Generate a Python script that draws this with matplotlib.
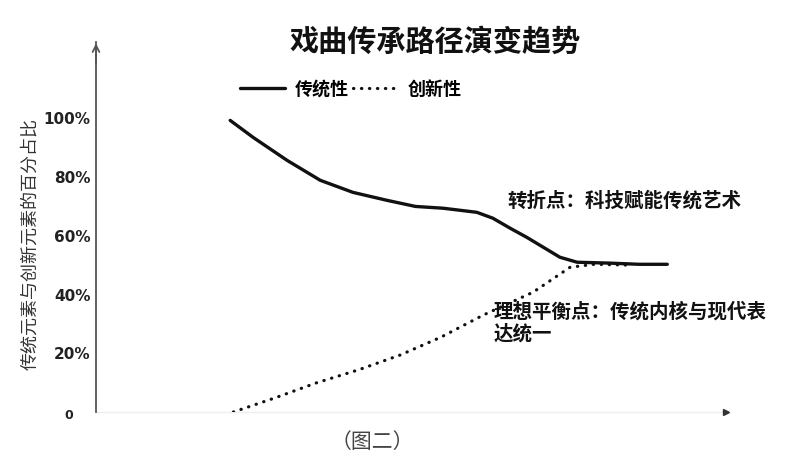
import matplotlib
matplotlib.use("Agg")
import matplotlib.pyplot as plt
from matplotlib.transforms import ScaledTranslation

plt.rcParams['font.family'] = ['Noto Sans CJK SC', 'DejaVu Sans']

# ---- data ----
trad_x = [21.0, 24.6, 29.9, 35.1, 40.2, 45.5, 50.0, 54.3, 59.6, 62.1, 64.8, 67.4, 70.0, 72.6, 75.3, 80.4, 85.0, 89.4]
trad_y = [99.3, 93.5, 85.7, 78.9, 74.8, 72.1, 70.0, 69.4, 68.0, 66.0, 62.6, 59.5, 56.1, 52.7, 51.0, 50.7, 50.3, 50.3]

innov_x = [21.5, 28, 34.6, 41, 47.6, 54, 60.6, 68.4, 74.2, 78, 84]
innov_y = [0, 4.8, 10, 14.3, 19.4, 25.5, 33, 40.8, 49.3, 50.3, 50]

ytick_vals = [0, 20, 40, 60, 80, 100]
ytick_labels = ["0", "20%", "40%", "60%", "80%", "100%"]

title = "戏曲传承路径演变趋势"
ylabel = "传统元素与创新元素的百分占比"
series_names = ["传统性", "创新性"]
note_turn = "转折点：科技赋能传统艺术"
note_balance = "理想平衡点：传统内核与现代表\n达统一"
caption = "（图二）"

W, H = 791, 466
fig = plt.figure(figsize=(W / 100, H / 100), dpi=100)
ax = fig.add_axes([96 / W, 54 / H, 639 / W, (412 - 42) / H])
ax.set_xlim(0, 100)
ax.set_ylim(0, 126)

l_trad, = ax.plot(trad_x, trad_y, color='#111111', lw=2.4, solid_capstyle='round',
                  solid_joinstyle='round', label=series_names[0], zorder=3)
l_innov, = ax.plot(innov_x, innov_y, color='#111111', lw=2.3, linestyle=(0, (0.1, 2.4)),
                   dash_capstyle='round', label=series_names[1], zorder=4)

# axes styling
for s in ['top', 'right', 'bottom']:
    ax.spines[s].set_visible(False)
ax.spines['left'].set_color('#555555')
ax.spines['left'].set_linewidth(1.3)
ax.set_xticks([])
ax.set_yticks(ytick_vals)
ax.set_yticklabels(ytick_labels, fontfamily='DejaVu Sans', fontweight='bold',
                   fontsize=11, color='#222222')
ax.tick_params(axis='y', length=0, pad=4)
lab0 = ax.get_yticklabels()[0]
lab0.set_transform(lab0.get_transform() + ScaledTranslation(-0.17, -0.02, fig.dpi_scale_trans))
lab0.set_fontsize(9)

# faint x axis + arrow heads
ax.plot([0, 98.5], [0, 0], color='#eeeeee', lw=1, clip_on=False, zorder=1)
ax.plot([98.6], [0], marker='>', markersize=5, color='#333333', clip_on=False, zorder=2)
ax.annotate('', xy=(0, 126.5), xytext=(0, 118), xycoords='data',
            arrowprops=dict(arrowstyle='->', color='#555555', lw=1.3, mutation_scale=12),
            annotation_clip=False)

# y label
fig.text(30 / W, 1 - 244 / H, ylabel, rotation=90, ha='center', va='center',
         fontsize=13, color='#333333')

# title
fig.text(435 / W, 1 - 42 / H, title, ha='center', va='center', fontsize=21,
         fontweight='bold', color='#111111')

# legend
fig.legend(handles=[l_trad, l_innov], loc='center left', bbox_to_anchor=(240 / W, 1 - 89 / H),
           ncol=2, frameon=False, handlelength=2.5, handletextpad=0.55,
           columnspacing=0.2, borderpad=0, borderaxespad=0,
           prop={'weight': 'bold', 'size': 13})

# annotations
fig.text(507 / W, 1 - 201 / H, note_turn, ha='left', va='center', fontsize=14,
         fontweight='bold', color='#111111')
fig.text(494 / W, 1 - 302 / H, note_balance, ha='left', va='top', fontsize=14,
         fontweight='bold', color='#111111', linespacing=1.18)

# caption
fig.text(372 / W, 1 - 442 / H, caption, ha='center', va='center', fontsize=15,
         color='#444444')

fig.savefig('out.png', dpi=100)
